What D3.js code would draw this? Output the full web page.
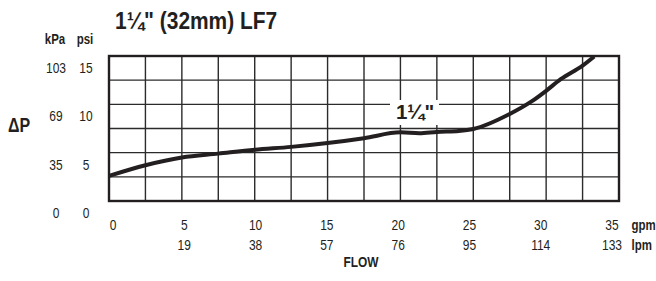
<!DOCTYPE html>
<html>
<head>
<meta charset="utf-8">
<script src="https://cdn.jsdelivr.net/npm/d3@7"></script>
<style>
  body { margin: 0; background: #fff; }
  svg text { font-family: "Liberation Sans", Arial, Helvetica, sans-serif; fill: #231f20; }
</style>
</head>
<body>
<div id="chart"></div>
<script>
// flow (gpm) vs pressure loss (psi)
const flowGpm = [0, 2.5, 5, 7.5, 10, 12.5, 15, 17.5, 20, 21.3, 22.5, 24, 25, 27.5, 29, 30, 31, 32.5, 33.3];
const lossPsi = [2.6, 3.7, 4.5, 4.9, 5.3, 5.6, 6.0, 6.5, 7.1, 7.0, 7.15, 7.25, 7.45, 9.0, 10.3, 11.4, 12.6, 14.0, 14.95];

const gpmTicks = [0, 5, 10, 15, 20, 25, 30, 35];
const lpmLabels = ["", "19", "38", "57", "76", "95", "114", "133"];
const psiTicks = [0, 5, 10, 15];
const kpaLabels = ["0", "35", "69", "103"];

const width = 656, height = 281;
const plot = {left: 109, right: 619, top: 56, bottom: 201};

const svg = d3.select("#chart").append("svg")
  .attr("width", width)
  .attr("height", height);

const x = d3.scaleLinear().domain([0, 35]).range([plot.left, plot.right]);
const y = d3.scaleLinear().domain([0, 15]).range([plot.bottom, plot.top]);

// label positions sit a little off the grid in the original
const xLabel = d3.scaleLinear().domain([0, 35]).range([113, 612]);
const yLabel = d3.scaleLinear().domain([0, 15]).range([218, 72.5]);

// condensed look: squeeze glyphs horizontally
function txt(sel, px, py, s, o) {
  return sel.append("text")
    .attr("transform", `translate(${px},${py}) scale(${o.sx || 1},1)`)
    .attr("text-anchor", o.anchor || "start")
    .attr("font-size", o.size)
    .attr("font-weight", o.bold ? "bold" : "normal")
    .text(s);
}

// grid
const grid = svg.append("g").attr("stroke", "#2b2b2b").attr("stroke-width", 1.4);
grid.selectAll(".v").data(d3.range(2.5, 35, 2.5)).enter()
  .append("line")
    .attr("x1", d => x(d)).attr("x2", d => x(d))
    .attr("y1", plot.top).attr("y2", plot.bottom);
grid.selectAll(".h").data(d3.range(2.5, 15, 2.5)).enter()
  .append("line")
    .attr("x1", plot.left).attr("x2", plot.right)
    .attr("y1", d => y(d)).attr("y2", d => y(d));

svg.append("rect")
  .attr("x", plot.left).attr("y", plot.top)
  .attr("width", plot.right - plot.left).attr("height", plot.bottom - plot.top)
  .attr("fill", "none").attr("stroke", "#231f20").attr("stroke-width", 2.4);

// curve
const line = d3.line()
  .x((d, i) => x(flowGpm[i]))
  .y(d => y(d))
  .curve(d3.curveMonotoneX);

svg.append("path")
  .datum(lossPsi)
  .attr("d", line)
  .attr("fill", "none")
  .attr("stroke", "#231f20")
  .attr("stroke-width", 4);

// series label on white
svg.append("rect")
  .attr("x", 390).attr("y", 100).attr("width", 49).attr("height", 25)
  .attr("fill", "#fff");
txt(svg, 415, 118.5, "1¼\"", {size: 20.5, bold: true, anchor: "middle", sx: 1});

// title
txt(svg, 115, 28.5, "1¼\" (32mm) LF7", {size: 23, bold: true, sx: 0.91});

// y labels
txt(svg, 55, 43.5, "kPa", {size: 14, bold: true, anchor: "middle", sx: 0.82});
txt(svg, 85, 43.5, "psi", {size: 14, bold: true, anchor: "middle", sx: 0.82});

psiTicks.forEach((d, i) => {
  txt(svg, 56, yLabel(d), kpaLabels[i], {size: 15, anchor: "middle", sx: 0.8});
  txt(svg, 86, yLabel(d), String(d), {size: 15, anchor: "middle", sx: 0.8});
});

txt(svg, 19, 132, "ΔP", {size: 20, bold: true, anchor: "middle", sx: 0.8});

// x labels
gpmTicks.forEach((d, i) => {
  txt(svg, xLabel(d), 230, String(d), {size: 15, anchor: "middle", sx: 0.8});
  txt(svg, xLabel(d), 250, lpmLabels[i], {size: 15, anchor: "middle", sx: 0.8});
});

txt(svg, 631.5, 230, "gpm", {size: 14, bold: true, sx: 0.82});
txt(svg, 631.5, 250, "lpm", {size: 14, bold: true, sx: 0.82});

txt(svg, 361, 267, "FLOW", {size: 14, bold: true, anchor: "middle", sx: 0.85});
</script>
</body>
</html>
